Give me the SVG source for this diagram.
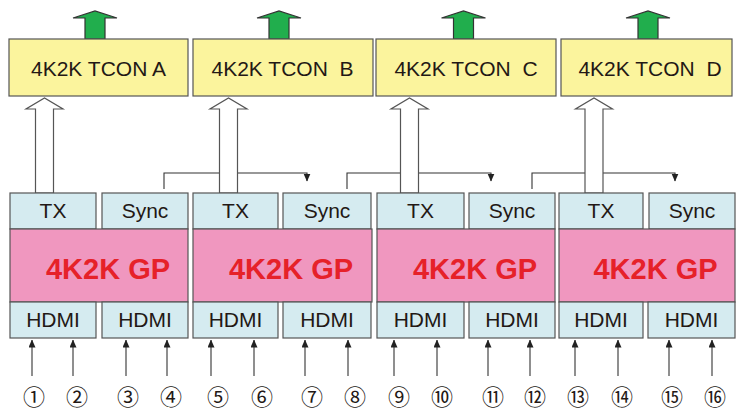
<svg xmlns="http://www.w3.org/2000/svg" width="736" height="412" viewBox="0 0 736 412">
<style>
.tcon{fill:#fbf49d;stroke:#555;stroke-width:1.2}
.blue{fill:#d5ebf0;stroke:#555;stroke-width:1.2}
.gp{fill:#f097bf;stroke:#555;stroke-width:1.2}
.green{fill:#21ae4d;stroke:#333;stroke-width:1.2}
.hollow{fill:#fff;stroke:#555;stroke-width:1.2}
.t{font-family:"Liberation Sans",Arial,sans-serif;font-size:21px;fill:#231815;text-anchor:middle;white-space:pre}
.g{font-family:"Liberation Sans",Arial,sans-serif;font-size:29px;font-weight:bold;fill:#e62129;text-anchor:middle}
.n{font-family:"Noto Sans CJK JP","Noto Sans CJK SC",sans-serif;font-size:22px;fill:#231815;text-anchor:middle}
.ln{fill:none;stroke:#333;stroke-width:1.1}
</style>
<defs>
<marker id="ah" markerUnits="userSpaceOnUse" markerWidth="8" markerHeight="9" refX="7.5" refY="3.5" orient="auto">
<path d="M0,0 L8,3.5 L0,7 Z" fill="#222"/>
</marker>
</defs>

<g id="connectors">
<path class="ln" d="M164,189 V173 H307 V181" marker-end="url(#ah)"/>
<path class="ln" d="M347,189 V173 H491 V181" marker-end="url(#ah)"/>
<path class="ln" d="M532,189 V173 H675 V181" marker-end="url(#ah)"/>
<g id="inputs">
<line class="ln" x1="32" y1="376" x2="32" y2="340" marker-end="url(#ah)"/>
<line class="ln" x1="73" y1="376" x2="73" y2="340" marker-end="url(#ah)"/>
<line class="ln" x1="126" y1="376" x2="126" y2="340" marker-end="url(#ah)"/>
<line class="ln" x1="167" y1="376" x2="167" y2="340" marker-end="url(#ah)"/>
<line class="ln" x1="211" y1="376" x2="211" y2="340" marker-end="url(#ah)"/>
<line class="ln" x1="254" y1="376" x2="254" y2="340" marker-end="url(#ah)"/>
<line class="ln" x1="305" y1="376" x2="305" y2="340" marker-end="url(#ah)"/>
<line class="ln" x1="348" y1="376" x2="348" y2="340" marker-end="url(#ah)"/>
<line class="ln" x1="394" y1="376" x2="394" y2="340" marker-end="url(#ah)"/>
<line class="ln" x1="437" y1="376" x2="437" y2="340" marker-end="url(#ah)"/>
<line class="ln" x1="488" y1="376" x2="488" y2="340" marker-end="url(#ah)"/>
<line class="ln" x1="530" y1="376" x2="530" y2="340" marker-end="url(#ah)"/>
<line class="ln" x1="575" y1="376" x2="575" y2="340" marker-end="url(#ah)"/>
<line class="ln" x1="618" y1="376" x2="618" y2="340" marker-end="url(#ah)"/>
<line class="ln" x1="669" y1="376" x2="669" y2="340" marker-end="url(#ah)"/>
<line class="ln" x1="712" y1="376" x2="712" y2="340" marker-end="url(#ah)"/>
</g>
<g id="tx-arrows">
<path class="hollow" d="M35.5,193 V109 H26 L44.5,98 L63,109 H53.5 V193 Z"/>
<path class="hollow" d="M219.5,193 V109 H210 L228.5,98 L247,109 H237.5 V193 Z"/>
<path class="hollow" d="M400.5,193 V109 H391 L409.5,98 L428,109 H418.5 V193 Z"/>
<path class="hollow" d="M585,193 V109 H575.5 L594,98 L612.5,109 H603 V193 Z"/>
</g>
<g id="out-arrows">
<path class="green" d="M85,39 V18 H73 L95,11 L117,18 H105 V39 Z"/>
<path class="green" d="M269,39 V18 H257 L279,11 L301,18 H289 V39 Z"/>
<path class="green" d="M453.5,39 V18 H441.5 L463.5,11 L485.5,18 H473.5 V39 Z"/>
<path class="green" d="M638,39 V18 H626 L648,11 L670,18 H658 V39 Z"/>
</g>
</g>

<g id="tcon-a"><rect class="tcon" x="9" y="39" width="179" height="57"/><text class="t" x="98.5" y="76">4K2K TCON A</text></g>
<g id="tcon-b"><rect class="tcon" x="193" y="39" width="180" height="57"/><text class="t" x="282.5" y="76">4K2K TCON  B</text></g>
<g id="tcon-c"><rect class="tcon" x="376" y="39" width="180" height="57"/><text class="t" x="466" y="76">4K2K TCON  C</text></g>
<g id="tcon-d"><rect class="tcon" x="561" y="39" width="171" height="57"/><text class="t" x="650" y="76">4K2K TCON  D</text></g>

<g id="gp-a">
<rect class="blue" x="10" y="193" width="86" height="36"/><text class="t" x="53" y="218">TX</text>
<rect class="blue" x="102" y="193" width="86" height="36"/><text class="t" x="145" y="218">Sync</text>
<rect class="gp" x="10" y="229" width="178" height="73"/><text class="g" x="108" y="279">4K2K GP</text>
<rect class="blue" x="10" y="302" width="86" height="36"/><text class="t" x="53" y="327">HDMI</text>
<rect class="blue" x="102" y="302" width="86" height="36"/><text class="t" x="145" y="327">HDMI</text>
</g>
<g id="gp-b">
<rect class="blue" x="193" y="193" width="85" height="36"/><text class="t" x="235.5" y="218">TX</text>
<rect class="blue" x="283" y="193" width="88" height="36"/><text class="t" x="327" y="218">Sync</text>
<rect class="gp" x="193" y="229" width="179" height="73"/><text class="g" x="291" y="279">4K2K GP</text>
<rect class="blue" x="193" y="302" width="85" height="36"/><text class="t" x="235.5" y="327">HDMI</text>
<rect class="blue" x="283" y="302" width="88" height="36"/><text class="t" x="327" y="327">HDMI</text>
</g>
<g id="gp-c">
<rect class="blue" x="377" y="193" width="87" height="36"/><text class="t" x="420.5" y="218">TX</text>
<rect class="blue" x="469" y="193" width="86" height="36"/><text class="t" x="512" y="218">Sync</text>
<rect class="gp" x="377" y="229" width="178" height="73"/><text class="g" x="475" y="279">4K2K GP</text>
<rect class="blue" x="377" y="302" width="87" height="36"/><text class="t" x="420.5" y="327">HDMI</text>
<rect class="blue" x="469" y="302" width="86" height="36"/><text class="t" x="512" y="327">HDMI</text>
</g>
<g id="gp-d">
<rect class="blue" x="559" y="193" width="84" height="36"/><text class="t" x="601" y="218">TX</text>
<rect class="blue" x="649" y="193" width="86" height="36"/><text class="t" x="692" y="218">Sync</text>
<rect class="gp" x="559" y="229" width="176" height="73"/><text class="g" x="655.5" y="279">4K2K GP</text>
<rect class="blue" x="559" y="302" width="84" height="36"/><text class="t" x="601" y="327">HDMI</text>
<rect class="blue" x="648" y="302" width="87" height="36"/><text class="t" x="691.5" y="327">HDMI</text>
</g>

<g id="numbers">
<text class="n" x="34" y="405">①</text>
<text class="n" x="77" y="405">②</text>
<text class="n" x="128" y="405">③</text>
<text class="n" x="171" y="405">④</text>
<text class="n" x="218" y="405">⑤</text>
<text class="n" x="262" y="405">⑥</text>
<text class="n" x="312" y="405">⑦</text>
<text class="n" x="355" y="405">⑧</text>
<text class="n" x="399" y="405">⑨</text>
<text class="n" x="442" y="405">⑩</text>
<text class="n" x="493" y="405">⑪</text>
<text class="n" x="535" y="405">⑫</text>
<text class="n" x="578" y="405">⑬</text>
<text class="n" x="622" y="405">⑭</text>
<text class="n" x="672" y="405">⑮</text>
<text class="n" x="715" y="405">⑯</text>
</g>
</svg>
